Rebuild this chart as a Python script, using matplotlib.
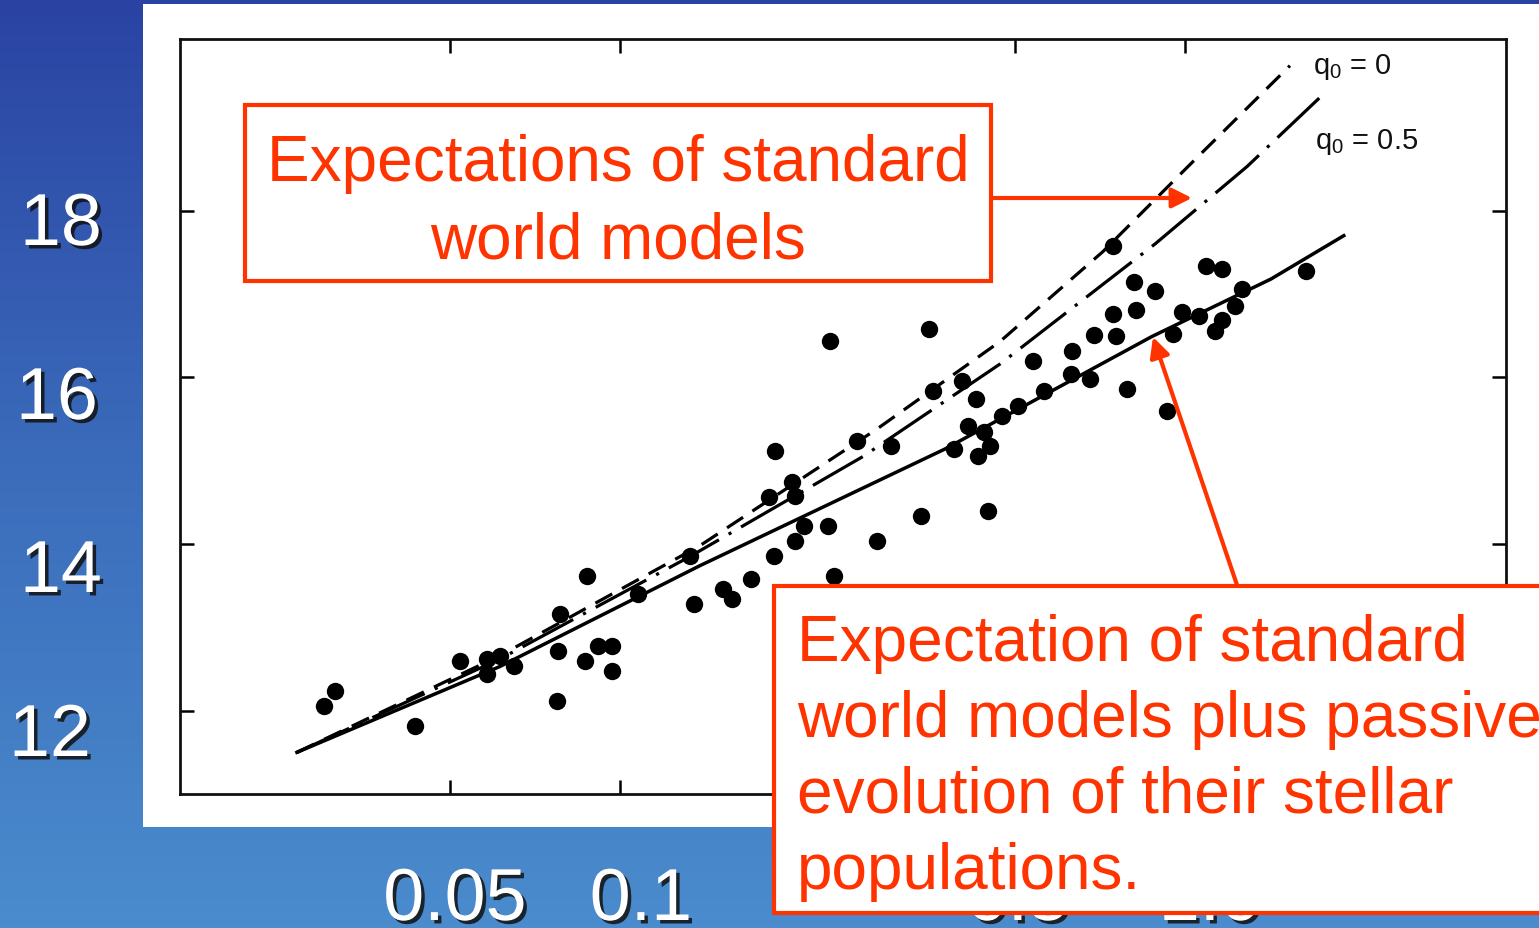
import numpy as np
import matplotlib.pyplot as plt
from matplotlib.colors import LinearSegmentedColormap
from matplotlib.patches import Rectangle
import matplotlib.patheffects as pe

plt.rcParams['font.family'] = ['Liberation Sans', 'DejaVu Sans']
plt.rcParams['mathtext.fontset'] = 'custom'
plt.rcParams['mathtext.rm'] = 'Liberation Sans'
plt.rcParams['mathtext.it'] = 'Liberation Sans'

# observed galaxies (redshift, magnitude)
z_obs = [0.0299, 0.0313, 0.0434, 0.0521, 0.0581, 0.0581, 0.0613, 0.0649, 0.0774, 0.0777,
         0.0783, 0.0867, 0.0874, 0.0914, 0.0968, 0.0968, 0.1076, 0.133, 0.1352, 0.152,
         0.158, 0.1705, 0.187, 0.1835, 0.188, 0.2016, 0.204, 0.204, 0.2117, 0.2334,
         0.239, 0.2353, 0.2627, 0.285, 0.3017, 0.341, 0.352, 0.358, 0.390, 0.403,
         0.413, 0.427, 0.430, 0.441, 0.452, 0.448, 0.4745, 0.506, 0.538, 0.563,
         0.6285, 0.631, 0.679, 0.690, 0.746, 0.746, 0.755, 0.789, 0.812, 0.819,
         0.885, 0.929, 0.952, 0.988, 1.059, 1.089, 1.163, 1.130, 1.163, 1.226,
         1.262, 1.638]
m_obs = [12.06, 12.23, 11.82, 12.60, 12.62, 12.44, 12.66, 12.54, 12.12, 12.72,
         13.16, 12.59, 13.62, 12.78, 12.78, 12.47, 13.40, 13.86, 13.28, 13.46,
         13.34, 13.58, 13.85, 14.56, 15.11, 14.74, 14.57, 14.04, 14.21, 14.22,
         13.61, 16.43, 15.24, 14.03, 15.17, 14.34, 16.58, 15.83, 15.14, 15.95,
         15.41, 15.74, 15.05, 15.34, 15.17, 14.40, 15.54, 15.65, 16.20, 15.83,
         16.04, 16.32, 15.98, 16.51, 17.57, 16.76, 16.50, 15.86, 17.14, 16.81,
         17.04, 15.59, 16.52, 16.78, 16.74, 17.34, 17.30, 16.56, 16.69, 16.85,
         17.06, 17.28]

# model curves
z_q0 = [0.0268, 0.0613, 0.1385, 0.285, 0.4706, 0.716, 1.016, 1.534]
m_q0 = [11.50, 12.66, 13.98, 15.38, 16.43, 17.51, 18.54, 19.74]
z_q05 = [0.0268, 0.0613, 0.133, 0.2692, 0.4706, 0.885, 1.288, 1.734]
m_q05 = [11.50, 12.62, 13.85, 15.05, 16.16, 17.60, 18.53, 19.36]
z_evo = [0.0268, 0.0613, 0.1385, 0.376, 0.874, 1.42, 1.91]
m_evo = [11.50, 12.53, 13.74, 15.14, 16.49, 17.18, 17.70]

y_ticks = [12, 14, 16, 18]
x_ticks = [0.05, 0.1, 0.5, 1.0]
x_tick_labels = ['0.05', '0.1', '0.5', '1.0']

RED = '#ff3300'
W, H = 1539, 929
fig = plt.figure(figsize=(W / 100, H / 100), dpi=100)

# slide background
bg = fig.add_axes([0, 0, 1, 1], zorder=-10)
grad = np.linspace(0, 1, 256).reshape(-1, 1)
cmap = LinearSegmentedColormap.from_list('slide', ['#2a43a3', '#3b6cbb', '#4a8ccd'])
bg.imshow(grad, aspect='auto', cmap=cmap, extent=[0, W, H, 0])
bg.add_patch(Rectangle((143, 5), W - 143, 823, fc='white', ec='none'))
bg.set_xlim(0, W)
bg.set_ylim(H, 0)
bg.set_axis_off()

# scanned chart
ax = fig.add_axes([180 / W, 1 - 795 / H, (1506 - 180) / W, (795 - 40) / H])
ax.set_xscale('log')
ax.set_xlim(0.01664, 3.70)
ax.set_ylim(11.0, 20.06)
ax.set_xticks(x_ticks)
ax.set_yticks(y_ticks)
ax.minorticks_off()
ax.tick_params(direction='in', length=10, width=1.8, top=True, right=True,
               labelbottom=False, labelleft=False)
for s in ax.spines.values():
    s.set_linewidth(2)
    s.set_color('#111111')

ax.plot(z_q0, m_q0, color='k', lw=2.3, dashes=(6, 3.5))
ax.plot(z_q05, m_q05, color='k', lw=2.3, dashes=(18, 3.5, 1, 3.5))
ax.plot(z_evo, m_evo, color='k', lw=2.5)
ax.plot(z_obs, m_obs, 'o', color='k', ms=12.5, mec='none')

ax.text(1.685, 19.73, r'q$_\mathregular{0}$ = 0', fontsize=21, va='center', color='#111111')
ax.text(1.698, 18.83, r'q$_\mathregular{0}$ = 0.5', fontsize=21, va='center', color='#111111')

# overlay in pixel coordinates
ov = fig.add_axes([0, 0, 1, 1], zorder=10)
ov.set_xlim(0, W)
ov.set_ylim(H, 0)
ov.set_axis_off()

shadow = [pe.SimplePatchShadow(offset=(2.5, -2.5), shadow_rgbFace='#111111', alpha=0.85), pe.Normal()]
y_label_pos = [(50, 757), (61, 593), (57, 420), (61, 246)]
for t, (px, py) in zip(y_ticks, y_label_pos):
    ov.text(px, py, str(t), fontsize=53, color='white', ha='center', va='baseline',
            path_effects=shadow)
x_label_pos = [455, 641, 1018, 1210]
for lab, px in zip(x_tick_labels, x_label_pos):
    ov.text(px, 921, lab, fontsize=53, color='white', ha='center', va='baseline',
            path_effects=shadow)

# annotation boxes
ov.add_patch(Rectangle((245, 106), 746, 176, fc='white', ec=RED, lw=3))
ov.text(618, 181, 'Expectations of standard', fontsize=46, color=RED, ha='center', va='baseline')
ov.text(618, 258, 'world models', fontsize=46, color=RED, ha='center', va='baseline')
ov.annotate('', xy=(1192, 199), xytext=(991, 199),
            arrowprops=dict(arrowstyle='-|>', color=RED, lw=3, mutation_scale=30,
                            shrinkA=0, shrinkB=0))

ov.annotate('', xy=(1153, 338), xytext=(1237, 586),
            arrowprops=dict(arrowstyle='-|>', color=RED, lw=3, mutation_scale=30,
                            shrinkA=0, shrinkB=0))
ov.add_patch(Rectangle((774, 587), 800, 327, fc='white', ec=RED, lw=3, zorder=3))
box2 = ['Expectation of standard', 'world models plus passive',
        'evolution of their stellar', 'populations.']
for i, line in enumerate(box2):
    ov.text(797, 661 + 76 * i, line, fontsize=46, color=RED, ha='left', va='baseline', zorder=4)

fig.savefig('out.png', dpi=100)
